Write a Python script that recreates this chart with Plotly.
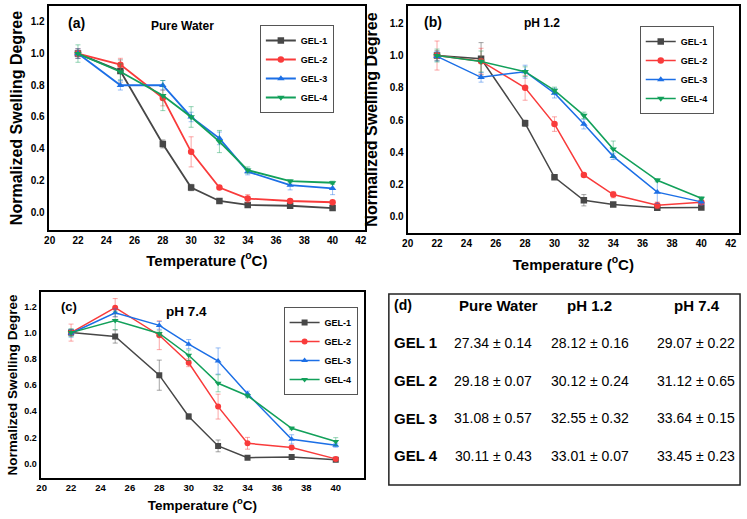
import plotly.graph_objects as go

W, H = 747, 519

temps = [22, 25, 28, 30, 32, 34, 37, 40]
gel_names = ["GEL-1", "GEL-2", "GEL-3", "GEL-4"]

# (a) Pure water
water_g1 = [1.00, 0.89, 0.43, 0.155, 0.07, 0.045, 0.04, 0.025]
water_g2 = [1.00, 0.93, 0.72, 0.38, 0.155, 0.085, 0.07, 0.062]
water_g3 = [1.00, 0.80, 0.80, 0.60, 0.465, 0.255, 0.17, 0.15]
water_g4 = [1.00, 0.885, 0.735, 0.60, 0.445, 0.265, 0.195, 0.185]
water_e1 = [0.03, 0.07, 0.025, 0.02, 0.01, 0.01, 0.01, 0.01]
water_e2 = [0.03, 0.04, 0.05, 0.095, 0.01, 0.025, 0.01, 0.01]
water_e3 = [0.03, 0.03, 0.03, 0.03, 0.04, 0.02, 0.03, 0.04]
water_e4 = [0.055, 0.05, 0.095, 0.065, 0.07, 0.02, 0.01, 0.01]

# (b) pH 1.2
ph12_g1 = [1.00, 0.98, 0.58, 0.245, 0.103, 0.076, 0.056, 0.058]
ph12_g2 = [1.00, 0.965, 0.80, 0.575, 0.26, 0.138, 0.072, 0.09]
ph12_g3 = [0.995, 0.865, 0.90, 0.767, 0.575, 0.375, 0.153, 0.093]
ph12_g4 = [1.00, 0.963, 0.90, 0.784, 0.629, 0.42, 0.227, 0.115]
ph12_e1 = [0.03, 0.10, 0.02, 0.01, 0.035, 0.01, 0.01, 0.01]
ph12_e2 = [0.09, 0.08, 0.077, 0.045, 0.01, 0.02, 0.02, 0.01]
ph12_e3 = [0.03, 0.03, 0.04, 0.03, 0.03, 0.02, 0.07, 0.02]
ph12_e4 = [0.04, 0.065, 0.03, 0.02, 0.02, 0.05, 0.01, 0.01]

# (c) pH 7.4
ph74_g1 = [1.00, 0.97, 0.675, 0.36, 0.135, 0.045, 0.05, 0.03]
ph74_g2 = [1.00, 1.19, 0.98, 0.77, 0.435, 0.155, 0.123, 0.036]
ph74_g3 = [0.995, 1.152, 1.055, 0.912, 0.783, 0.533, 0.185, 0.14]
ph74_g4 = [1.00, 1.093, 0.993, 0.827, 0.613, 0.518, 0.27, 0.168]
ph74_e1 = [0.02, 0.05, 0.115, 0.02, 0.045, 0.01, 0.01, 0.01]
ph74_e2 = [0.065, 0.07, 0.11, 0.03, 0.095, 0.045, 0.01, 0.01]
ph74_e3 = [0.03, 0.03, 0.03, 0.035, 0.1, 0.02, 0.035, 0.015]
ph74_e4 = [0.03, 0.07, 0.02, 0.04, 0.065, 0.015, 0.01, 0.03]

# (d) table
table_corner = "(d)"
table_cols = ["Pure Water", "pH 1.2", "pH 7.4"]
table_rows = ["GEL 1", "GEL 2", "GEL 3", "GEL 4"]
lcst_water = ["27.34 ± 0.14", "29.18 ± 0.07", "31.08 ± 0.57", "30.11 ± 0.43"]
lcst_ph12 = ["28.12 ± 0.16", "30.12 ± 0.24", "32.55 ± 0.32", "33.01 ± 0.07"]
lcst_ph74 = ["29.07 ± 0.22", "31.12 ± 0.65", "33.64 ± 0.15", "33.45 ± 0.23"]

x_ticks = list(range(20, 43, 2))
y_ticks = [0.0, 0.2, 0.4, 0.6, 0.8, 1.0, 1.2]

colors = ["#474747", "#f93b3b", "#1c6fe6", "#12a05a"]
err_colors = ["rgba(90,90,90,0.55)", "rgba(249,59,59,0.45)",
              "rgba(28,111,230,0.45)", "rgba(18,160,90,0.45)"]
symbols = ["square", "circle", "triangle-up", "triangle-down"]

FONT = "Liberation Sans, Arial, sans-serif"

panels = [
    dict(ax="", leg="legend", data=[water_g1, water_g2, water_g3, water_g4],
         err=[water_e1, water_e2, water_e3, water_e4], lw=1.8, ms=6.5),
    dict(ax="2", leg="legend2", data=[ph12_g1, ph12_g2, ph12_g3, ph12_g4],
         err=[ph12_e1, ph12_e2, ph12_e3, ph12_e4], lw=1.5, ms=6.5),
    dict(ax="3", leg="legend3", data=[ph74_g1, ph74_g2, ph74_g3, ph74_g4],
         err=[ph74_e1, ph74_e2, ph74_e3, ph74_e4], lw=1.5, ms=6),
]

fig = go.Figure()
for p in panels:
    for i in range(4):
        fig.add_trace(go.Scatter(
            x=temps, y=p["data"][i], name=gel_names[i],
            mode="lines+markers",
            line=dict(color=colors[i], width=p["lw"]),
            marker=dict(color=colors[i], symbol=symbols[i], size=p["ms"]),
            error_y=dict(type="data", array=p["err"][i], color=err_colors[i],
                         thickness=1, width=2.5),
            xaxis="x" + p["ax"], yaxis="y" + p["ax"], legend=p["leg"],
        ))

def xaxis(dom, rng, tf, tsz, stand, anchor):
    return dict(domain=dom, range=rng, tickvals=x_ticks, showgrid=False, zeroline=False,
                showline=True, mirror=True, linecolor="black", linewidth=2, ticks="",
                anchor=anchor,
                tickfont=dict(family=FONT, size=tsz, color="black", weight="bold"),
                title=dict(text="Temperature (<sup>o</sup>C)", standoff=stand,
                           font=dict(family=FONT, size=tf, color="black", weight="bold")))

def yaxis(dom, rng, tf, tsz, stand, anchor):
    return dict(domain=dom, range=rng, tickvals=y_ticks, tickformat=".1f", showgrid=False,
                zeroline=False, showline=True, mirror=True, linecolor="black", linewidth=2,
                ticks="", anchor=anchor,
                tickfont=dict(family=FONT, size=tsz, color="black", weight="bold"),
                title=dict(text="Normalized Swelling Degree", standoff=stand,
                           font=dict(family=FONT, size=tf, color="black", weight="bold")))

fig.update_layout(
    width=W, height=H, margin=dict(l=0, r=0, t=0, b=0),
    paper_bgcolor="white", plot_bgcolor="white",
    font=dict(family=FONT, color="black"),
    xaxis=xaxis([43 / W, 363 / W], [19.92, 42.3], 15, 10, 10, "y"),
    xaxis2=xaxis([406 / W, 741 / W], [20.0, 42.57], 15, 10, 11, "y2"),
    xaxis3=xaxis([35 / W, 362 / W], [19.93, 41.93], 13.5, 9.5, 8, "y3"),
    yaxis=yaxis([1 - 230 / H, 1 - 6 / H], [-0.113, 1.30], 16, 10, 4, "x"),
    yaxis2=yaxis([1 - 233 / H, 1 - 6 / H], [-0.10, 1.307], 16, 10, 8, "x2"),
    yaxis3=yaxis([1 - 478 / H, 1 - 292 / H], [-0.11, 1.31], 13.5, 9, 4, "x3"),
)

leg_common = dict(font=dict(family=FONT, size=9, color="black", weight="bold"),
                  bgcolor="white", bordercolor="#555555", borderwidth=1,
                  xanchor="center", yanchor="top", itemwidth=30, tracegroupgap=0)
fig.update_layout(
    legend=dict(x=294 / W, y=1 - 25 / H, **leg_common),
    legend2=dict(x=678 / W, y=1 - 26 / H, **leg_common),
    legend3=dict(x=318 / W, y=1 - 307 / H, **leg_common),
)

labels = [
    ("<b>(a)</b>", 71.7, 22.7, 14), ("<b>Pure Water</b>", 178.7, 26, 12),
    ("<b>(b)</b>", 432, 21.7, 14), ("<b>pH 1.2</b>", 542, 23.3, 12),
    ("<b>(c)</b>", 63.5, 306, 13), ("<b>pH 7.4</b>", 182.5, 311.7, 13.5),
]
for t, x, y, s in labels:
    fig.add_annotation(text=t, x=x / W, y=1 - y / H, xref="paper", yref="paper",
                       showarrow=False, xanchor="center", yanchor="middle",
                       font=dict(family=FONT, size=s, color="black"))

# (d) table drawn as text cells in a framed box
tbl_header_y = 305
tbl_row_y = [342.7, 380.7, 418.3, 455.7]
tbl_col_x = [498, 590, 698]
tbl_val_x = [492.3, 590.8, 697.5]
tbl_label_x = 390
fig.add_annotation(text="<b>" + table_corner + "</b>", x=tbl_label_x / W, y=1 - tbl_header_y / H,
                   xref="paper", yref="paper", showarrow=False, xanchor="left", yanchor="middle",
                   font=dict(family=FONT, size=14, color="black"))
for c, cx in zip(table_cols, tbl_col_x):
    fig.add_annotation(text="<b>" + c + "</b>", x=cx / W, y=1 - tbl_header_y / H,
                       xref="paper", yref="paper", showarrow=False, xanchor="center",
                       yanchor="middle", font=dict(family=FONT, size=15, color="black"))
cols_vals = [lcst_water, lcst_ph12, lcst_ph74]
for r, ry in enumerate(tbl_row_y):
    fig.add_annotation(text="<b>" + table_rows[r] + "</b>", x=tbl_label_x / W, y=1 - ry / H,
                       xref="paper", yref="paper", showarrow=False, xanchor="left",
                       yanchor="middle", font=dict(family=FONT, size=15, color="black"))
    for vals, cx in zip(cols_vals, tbl_val_x):
        fig.add_annotation(text=vals[r], x=cx / W, y=1 - ry / H,
                           xref="paper", yref="paper", showarrow=False, xanchor="center",
                           yanchor="middle", font=dict(family=FONT, size=14, color="black"))

fig.add_shape(type="rect", xref="paper", yref="paper",
              x0=387 / W, x1=742 / W, y0=1 - 485 / H, y1=1 - 294 / H,
              line=dict(color="#222222", width=1.5))

fig.write_html("out.html")
